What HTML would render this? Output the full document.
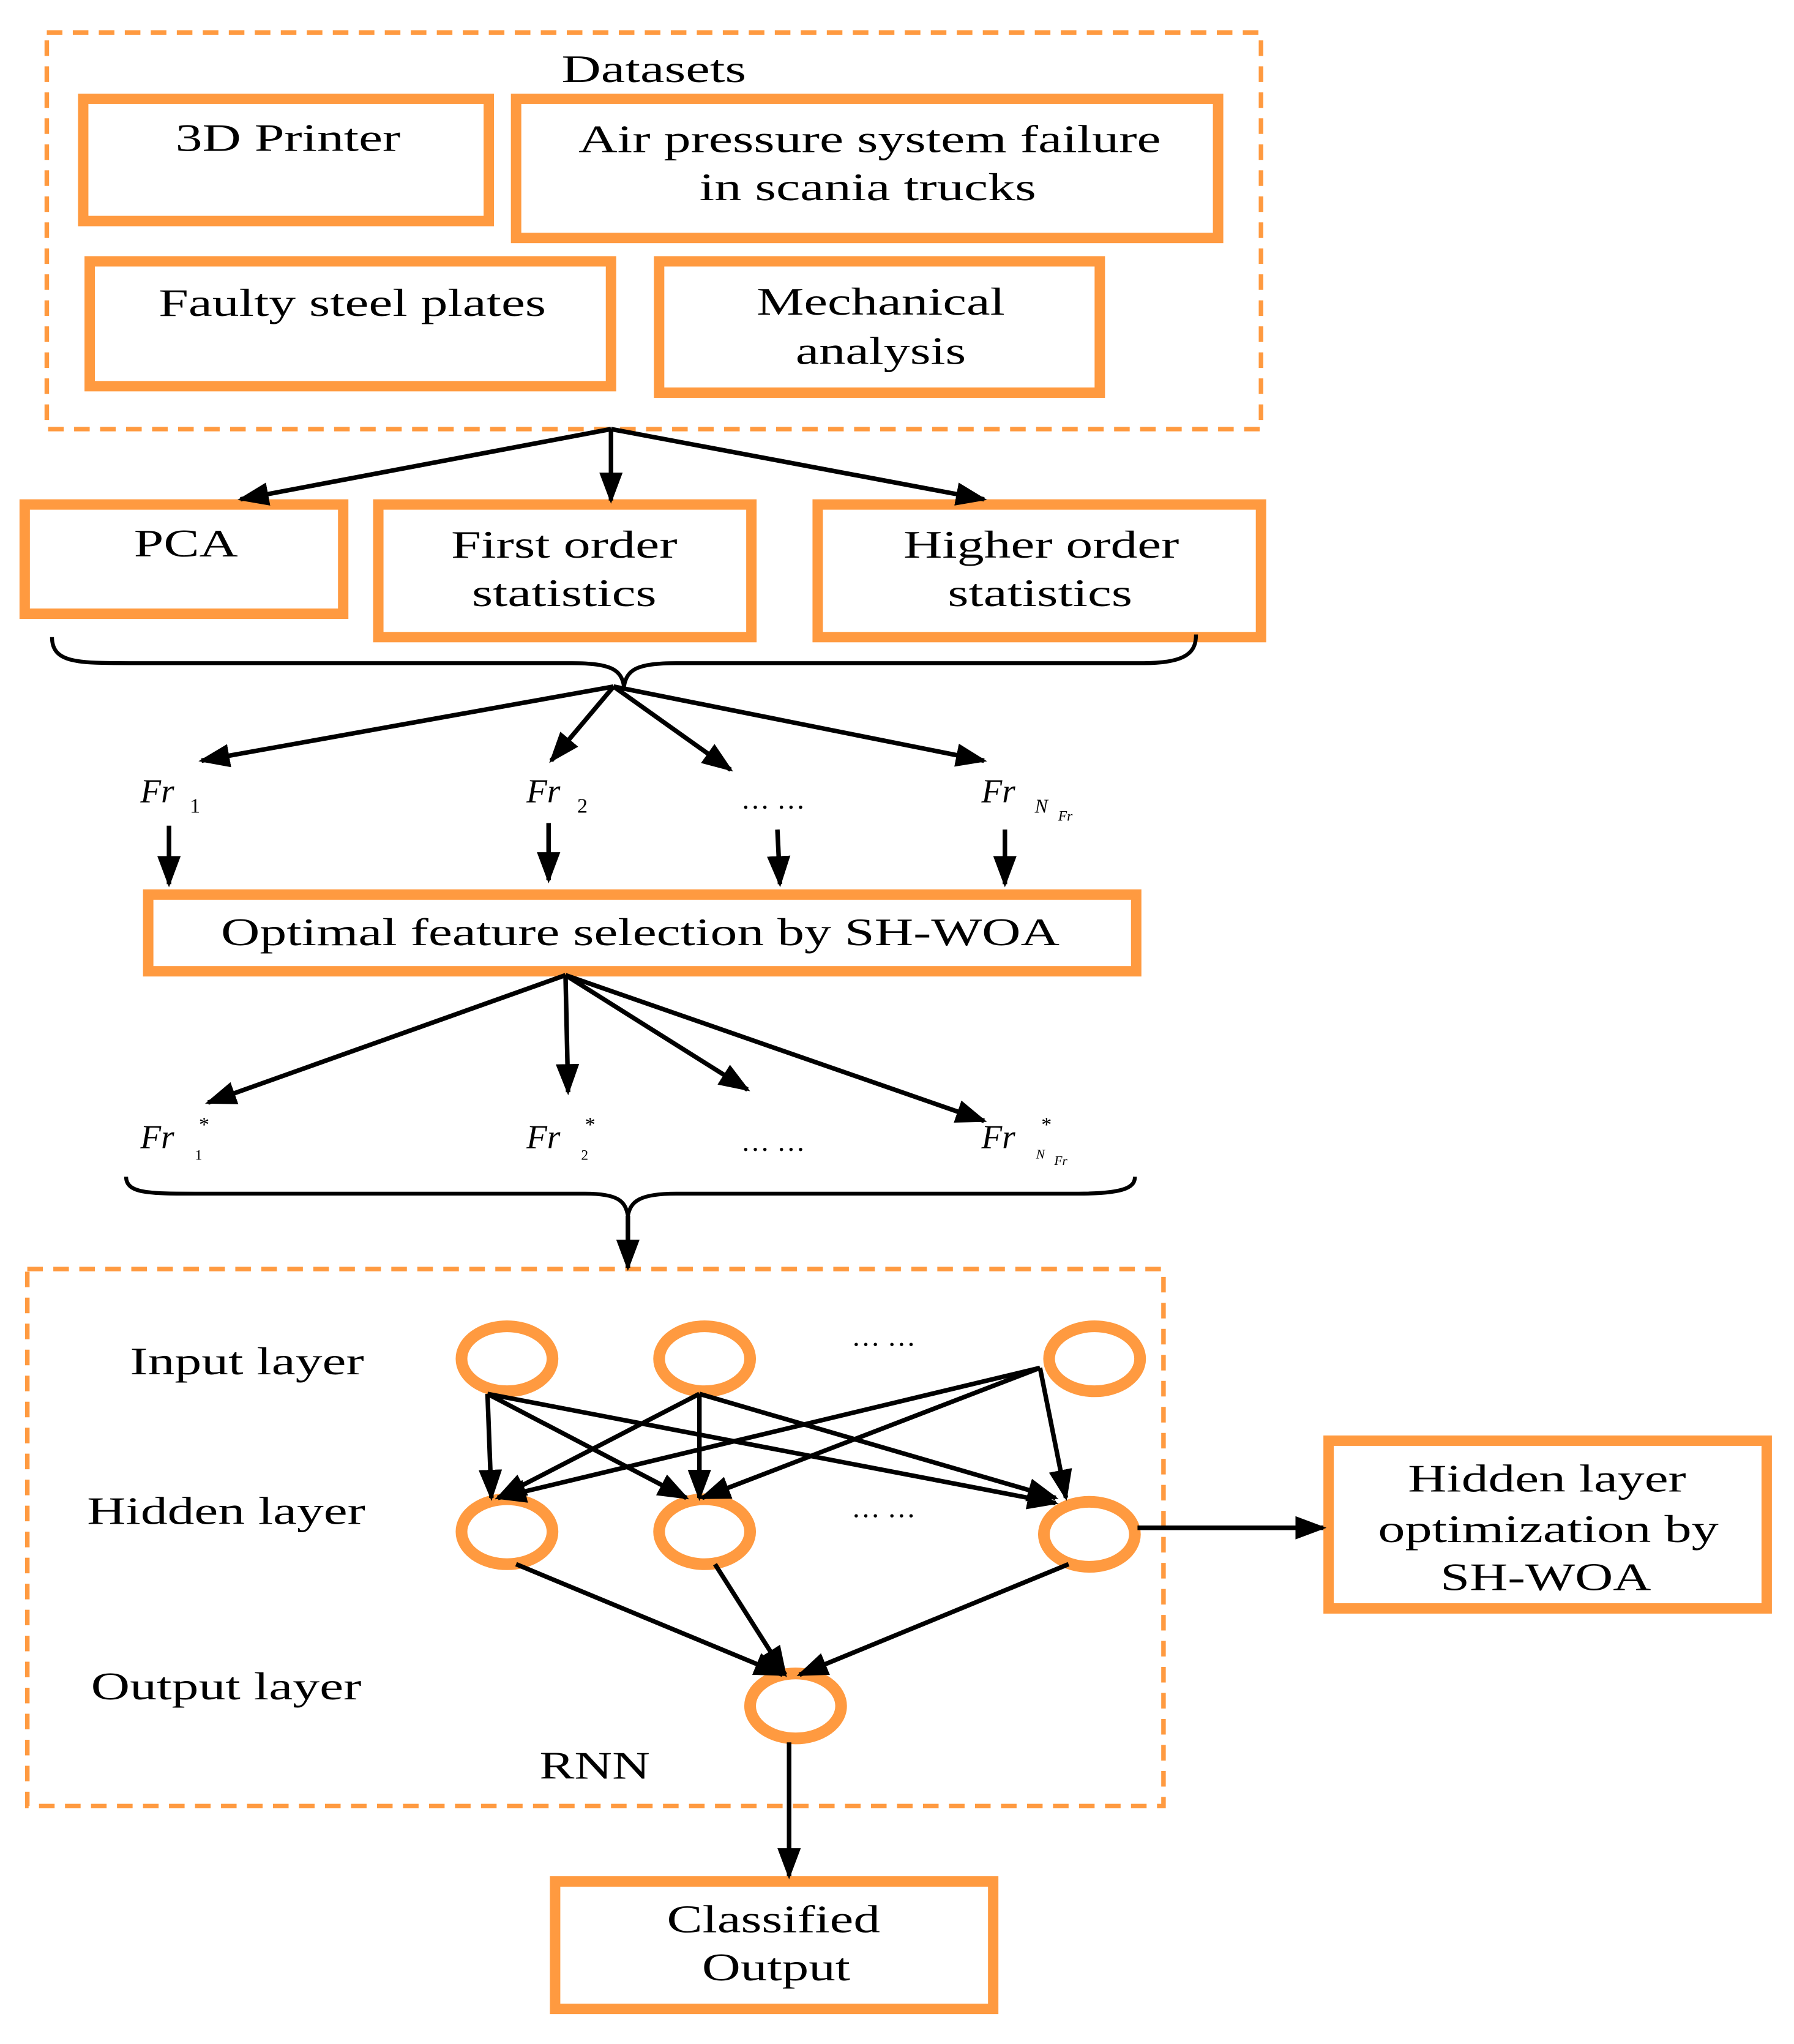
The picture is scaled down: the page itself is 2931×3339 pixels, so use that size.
<!DOCTYPE html>
<html><head><meta charset="utf-8"><style>
html,body{margin:0;padding:0;background:#fff;}
svg{display:block;}
text{font-family:"Liberation Serif",serif;fill:#000;}
</style></head><body>
<svg width="2931" height="3339" viewBox="0 0 1380 1572" preserveAspectRatio="none" xmlns="http://www.w3.org/2000/svg">
<defs>
<marker id="a" viewBox="0 0 10 10" refX="10" refY="5" markerWidth="6" markerHeight="6" orient="auto" markerUnits="userSpaceOnUse">
</marker>
<marker id="ah" viewBox="0 0 10 10" refX="9" refY="5" markerWidth="24" markerHeight="18" orient="auto" markerUnits="userSpaceOnUse" preserveAspectRatio="none">
<path d="M0,0 L10,5 L0,10 z" fill="#000"/></marker>
</defs>
<g fill="none" stroke="#FF9A40">
<rect x="36" y="25" width="934" height="305" stroke-width="3.5" stroke-dasharray="12,8"/>
<rect x="21" y="976" width="874" height="413" stroke-width="3.5" stroke-dasharray="12,8"/>
<g stroke-width="8">
<rect x="64" y="76" width="312" height="94"/>
<rect x="397" y="76" width="540" height="107"/>
<rect x="69" y="201" width="401" height="96"/>
<rect x="507" y="201" width="339" height="101"/>
<rect x="19" y="388" width="245" height="84"/>
<rect x="291" y="388" width="287" height="102"/>
<rect x="629" y="388" width="341" height="102"/>
<rect x="114" y="688" width="760" height="59"/>
<rect x="1022" y="1108" width="337" height="129"/>
<rect x="427" y="1447" width="337" height="98"/>
</g>
<g stroke-width="9">
<ellipse cx="390" cy="1045" rx="35" ry="25"/>
<ellipse cx="542" cy="1045" rx="35" ry="25"/>
<ellipse cx="842" cy="1045" rx="35" ry="25"/>
<ellipse cx="390" cy="1178" rx="35" ry="25"/>
<ellipse cx="542" cy="1178" rx="35" ry="25"/>
<ellipse cx="838" cy="1180" rx="35" ry="25"/>
<ellipse cx="612" cy="1312" rx="35" ry="25"/>
</g>
</g>
<g stroke="#000" stroke-width="3.5" fill="none" marker-end="url(#ah)">
<line x1="470" y1="330" x2="185" y2="384"/>
<line x1="470" y1="330" x2="470" y2="385"/>
<line x1="470" y1="330" x2="757" y2="384"/>
<line x1="472" y1="528" x2="155" y2="585"/>
<line x1="472" y1="528" x2="424" y2="585"/>
<line x1="472" y1="528" x2="562" y2="592"/>
<line x1="472" y1="528" x2="757" y2="585"/>
<line x1="130" y1="635" x2="130" y2="680"/>
<line x1="422" y1="633" x2="422" y2="677"/>
<line x1="598" y1="638" x2="600" y2="680"/>
<line x1="773" y1="638" x2="773" y2="680"/>
<line x1="435" y1="750" x2="160" y2="848"/>
<line x1="435" y1="750" x2="437" y2="840"/>
<line x1="435" y1="750" x2="575" y2="838"/>
<line x1="435" y1="750" x2="757" y2="862"/>
<line x1="483" y1="935" x2="483" y2="975"/>
<line x1="375" y1="1072" x2="378" y2="1152"/>
<line x1="375" y1="1072" x2="528" y2="1152"/>
<line x1="375" y1="1072" x2="812" y2="1156"/>
<line x1="538" y1="1072" x2="383" y2="1152"/>
<line x1="538" y1="1072" x2="538" y2="1152"/>
<line x1="538" y1="1072" x2="812" y2="1152"/>
<line x1="800" y1="1052" x2="383" y2="1152"/>
<line x1="800" y1="1052" x2="540" y2="1152"/>
<line x1="800" y1="1052" x2="820" y2="1152"/>
<line x1="397" y1="1203" x2="602" y2="1288"/>
<line x1="550" y1="1203" x2="604" y2="1288"/>
<line x1="822" y1="1203" x2="615" y2="1288"/>
<line x1="875" y1="1175" x2="1018" y2="1175"/>
<line x1="607" y1="1340" x2="607" y2="1443"/>
</g>
<g stroke="#000" stroke-width="3" fill="none">
<path d="M40,490 C40,510 60,510 100,510 L440,510 C470,510 478,515 480,528 C482,515 490,510 520,510 L880,510 C915,510 920,500 920,488"/>
<path d="M97,905 C97,918 115,918 150,918 L450,918 C476,918 481,924 483,935 C485,924 492,918 520,918 L830,918 C868,918 873,912 873,905"/>
</g>
<g font-size="30">
<text x="432" y="63" textLength="142" lengthAdjust="spacingAndGlyphs">Datasets</text>
<text x="135" y="116" textLength="173" lengthAdjust="spacingAndGlyphs">3D Printer</text>
<text x="445" y="117" textLength="448" lengthAdjust="spacingAndGlyphs">Air pressure system failure</text>
<text x="538" y="154" textLength="259" lengthAdjust="spacingAndGlyphs">in scania trucks</text>
<text x="122" y="243" textLength="298" lengthAdjust="spacingAndGlyphs">Faulty steel plates</text>
<text x="582" y="242" textLength="191" lengthAdjust="spacingAndGlyphs">Mechanical</text>
<text x="612" y="280" textLength="131" lengthAdjust="spacingAndGlyphs">analysis</text>
<text x="103" y="428" textLength="80" lengthAdjust="spacingAndGlyphs">PCA</text>
<text x="347" y="429" textLength="174" lengthAdjust="spacingAndGlyphs">First order</text>
<text x="363" y="466" textLength="142" lengthAdjust="spacingAndGlyphs">statistics</text>
<text x="695" y="429" textLength="212" lengthAdjust="spacingAndGlyphs">Higher order</text>
<text x="729" y="466" textLength="142" lengthAdjust="spacingAndGlyphs">statistics</text>
<text x="170" y="727" textLength="645" lengthAdjust="spacingAndGlyphs">Optimal feature selection by SH-WOA</text>
<text x="100" y="1057" textLength="180" lengthAdjust="spacingAndGlyphs">Input layer</text>
<text x="67" y="1172" textLength="214" lengthAdjust="spacingAndGlyphs">Hidden layer</text>
<text x="70" y="1307" textLength="208" lengthAdjust="spacingAndGlyphs">Output layer</text>
<text x="415" y="1368" textLength="85" lengthAdjust="spacingAndGlyphs">RNN</text>
<text x="1083" y="1147" textLength="214" lengthAdjust="spacingAndGlyphs">Hidden layer</text>
<text x="1060" y="1186" textLength="262" lengthAdjust="spacingAndGlyphs">optimization by</text>
<text x="1108" y="1223" textLength="162" lengthAdjust="spacingAndGlyphs">SH-WOA</text>
<text x="513" y="1486" textLength="164" lengthAdjust="spacingAndGlyphs">Classified</text>
<text x="540" y="1523" textLength="114" lengthAdjust="spacingAndGlyphs">Output</text>
</g>
<g font-size="26" font-style="italic">
<text x="108" y="617">Fr</text><text x="405" y="617">Fr</text><text x="755" y="617">Fr</text>
<text x="108" y="883">Fr</text><text x="405" y="883">Fr</text><text x="755" y="883">Fr</text>
</g>
<g font-size="16">
<text x="146" y="625">1</text><text x="444" y="625">2</text>
<text x="150" y="892" font-size="11">1</text><text x="447" y="892" font-size="11">2</text>
<text x="153" y="870">*</text><text x="450" y="870">*</text><text x="801" y="870">*</text>
</g>
<g font-style="italic">
<text x="796" y="625" font-size="15">N</text><text x="814" y="631" font-size="11">Fr</text>
<text x="797" y="891" font-size="10">N</text><text x="811" y="896" font-size="10">Fr</text>
</g>
<g font-size="22">
<text x="570" y="622">… …</text>
<text x="570" y="885">… …</text>
<text x="655" y="1035">… …</text>
<text x="655" y="1167">… …</text>
</g>
</svg>
</body></html>
